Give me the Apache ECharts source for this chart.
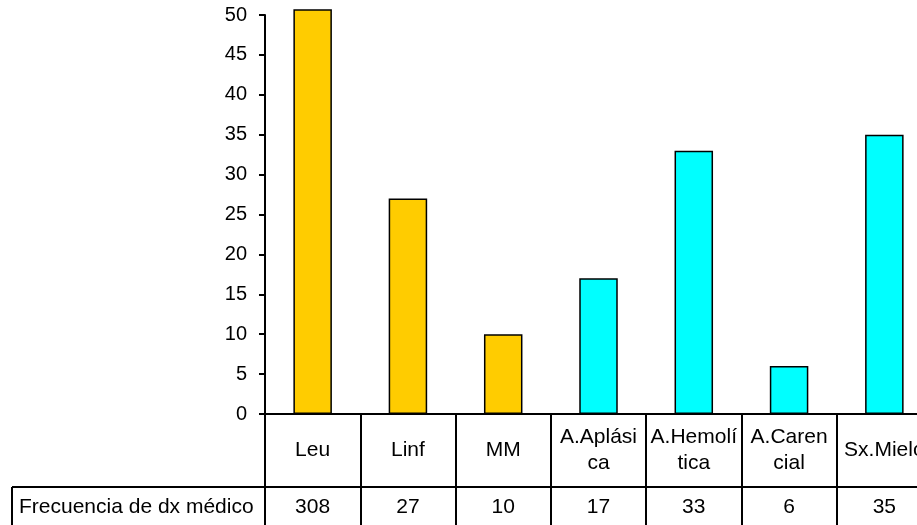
<!DOCTYPE html>
<html>
<head>
<meta charset="utf-8">
<script src="https://cdn.jsdelivr.net/npm/echarts@6/dist/echarts.min.js"></script>
<style>
  html, body { margin: 0; padding: 0; background: #fff; }
  #chart { width: 917px; height: 525px; }
</style>
</head>
<body>
<div id="chart"></div>
<script>
// Diagnoses (labels wrapped the way the data table shows them)
const categories = ['Leu', 'Linf', 'MM', 'A.Aplási\nca', 'A.Hemolí\ntica', 'A.Caren\ncial', 'Sx.Mielo'];
// Frequency of each medical diagnosis
const frecuencia = [308, 27, 10, 17, 33, 6, 35];
// Diagnoses drawn in the first (gold) group
const neoplasias = ['Leu', 'Linf', 'MM'];
// Value axis range
const yMin = 0, yMax = 50, yStep = 5;
const rowHeader = 'Frecuencia de dx médico';

// Layout
const W = 917, H = 525;
const PLOT_LEFT = 265, PLOT_W = 667;      // plot runs past the right edge
const AXIS_Y = 414, AXIS_TOP = 15, CLIP_TOP = 10;
const ROW_H = 73;
const FONT = '"Liberation Sans", Arial, sans-serif';
const GOLD = '#FFCC00', CYAN = '#00FFFF';

// Bars live in a slightly taller grid so the clipped bar pokes above the axis top
const barMax = yMax * (AXIS_Y - CLIP_TOP) / (AXIS_Y - AXIS_TOP);

const chart = echarts.init(document.getElementById('chart'), null, { renderer: 'canvas' });

const tickTxt = { color: '#000', fontFamily: FONT, fontSize: 20 };
const cellTxt = { color: '#000', fontFamily: FONT, fontSize: 21 };
const line = { color: '#000', width: 2 };

chart.setOption({
  backgroundColor: '#fff',
  animation: false,
  grid: [
    { left: PLOT_LEFT, top: CLIP_TOP, width: PLOT_W, bottom: H - AXIS_Y, outerBoundsMode: 'none', containLabel: false },
    { left: PLOT_LEFT, top: AXIS_TOP, width: PLOT_W, bottom: H - AXIS_Y, outerBoundsMode: 'none', containLabel: false }
  ],
  xAxis: [
    { gridIndex: 0, type: 'category', data: categories, show: false },
    {
      // first table row: diagnosis names
      gridIndex: 1, type: 'category', data: categories, position: 'bottom',
      boundaryGap: true,
      axisLine: { show: true, lineStyle: line },
      axisTick: { show: true, length: ROW_H, interval: 0, lineStyle: line },
      axisLabel: Object.assign({}, cellTxt, {
        interval: 0, margin: ROW_H / 2, verticalAlign: 'middle', lineHeight: 26, hideOverlap: false
      }),
      splitLine: { show: false }
    },
    {
      // second table row: frequencies
      gridIndex: 1, type: 'category', data: frecuencia.map(String), position: 'bottom',
      offset: ROW_H, boundaryGap: true,
      axisLine: { show: true, lineStyle: line },
      axisTick: { show: true, length: 60, interval: 0, lineStyle: line },
      axisLabel: Object.assign({}, cellTxt, { interval: 0, margin: 20, verticalAlign: 'middle', hideOverlap: false }),
      splitLine: { show: false }
    }
  ],
  yAxis: [
    { gridIndex: 0, type: 'value', min: yMin, max: barMax, show: false, splitLine: { show: false } },
    {
      gridIndex: 1, type: 'value', min: yMin, max: yMax, interval: yStep,
      axisLine: { show: true, lineStyle: line },
      axisTick: { show: true, length: 6, inside: false, lineStyle: line },
      axisLabel: Object.assign({}, tickTxt, { margin: 18 }),
      splitLine: { show: false }
    }
  ],
  series: [{
    type: 'bar',
    xAxisIndex: 0, yAxisIndex: 0,
    data: frecuencia,
    barWidth: 38.5,
    clip: true,
    itemStyle: {
      color: p => neoplasias.includes(categories[p.dataIndex]) ? GOLD : CYAN,
      borderColor: '#000',
      borderWidth: 1.5
    }
  }],
  graphic: [
    { type: 'line', shape: { x1: 12, y1: AXIS_Y + ROW_H, x2: PLOT_LEFT, y2: AXIS_Y + ROW_H }, style: { stroke: '#000', lineWidth: 2 } },
    { type: 'line', shape: { x1: 12, y1: AXIS_Y + ROW_H, x2: 12, y2: H + 5 }, style: { stroke: '#000', lineWidth: 2 } },
    { type: 'text', x: 19, y: AXIS_Y + ROW_H + 20, style: { text: rowHeader, fill: '#000', font: '21px ' + FONT, verticalAlign: 'middle', align: 'left' } }
  ]
});
</script>
</body>
</html>
